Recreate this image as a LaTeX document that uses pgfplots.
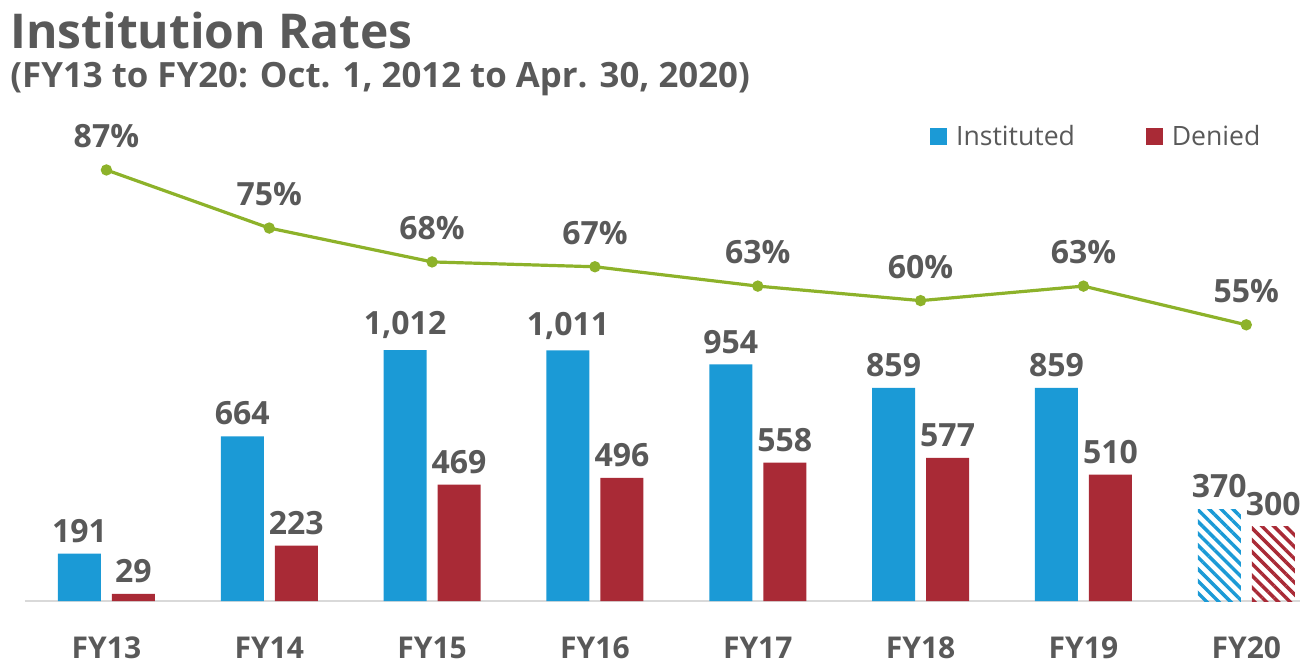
\documentclass[border=0pt]{standalone}
\usepackage{pgfplots}
\pgfplotsset{compat=1.18}
\usepackage{fontspec}
\setmainfont{Open Sans}
\usetikzlibrary{patterns.meta}
\definecolor{instblue}{HTML}{1B9AD6}
\definecolor{denred}{HTML}{A92A36}
\definecolor{linegreen}{HTML}{8DB22A}
\definecolor{txtgray}{HTML}{595959}
\definecolor{basegray}{HTML}{D9D9D9}
\begin{document}
\begin{tikzpicture}
\useasboundingbox (0,0) rectangle (653pt,333pt);
\node[anchor=north west, inner sep=0, text=txtgray, font=\fontsize{24}{28}\selectfont\bfseries] at (5pt,327pt) {Institution Rates};
\node[anchor=north west, inner sep=0, text=txtgray, font=\fontsize{17.4}{20}\selectfont\bfseries] at (5pt,302pt) {(FY13 to FY20: Oct. 1, 2012 to Apr. 30, 2020)};
\begin{axis}[
  at={(12.5pt,32.5pt)}, anchor=south west, scale only axis,
  width=637.5pt, height=235.6pt,
  xmin=-0.5, xmax=7.33, ymin=0, ymax=1900,
  ybar, bar width=21.5pt,
  axis x line*=bottom, axis y line=none,
  x axis line style={basegray, line width=0.8pt, -},
  xtick={0,...,7}, xticklabels={FY13,FY14,FY15,FY16,FY17,FY18,FY19,FY20},
  major tick length=0pt,
  xticklabel style={font=\fontsize{15}{18}\selectfont\bfseries, text=txtgray, yshift=-14.5pt},
  nodes near coords,
  every node near coord/.append style={font=\fontsize{16}{18}\selectfont\bfseries, text=txtgray, yshift=2pt,
    /pgf/number format/1000 sep={,}, /pgf/number format/assume math mode=true},
  legend style={at={(0.705,0.985)}, anchor=west, draw=none, fill=none,
    font=\fontsize{13.3}{15}\selectfont, text=txtgray, legend columns=2,
    /tikz/every even column/.append style={column sep=33.5pt}},
  clip=false,
]
\addplot[fill=instblue, draw=none, bar shift=-13.5pt,
  legend image code/.code={\fill[instblue] (0pt,-4.2pt) rectangle (8.4pt,4.2pt);}]
  coordinates {(0,191)(1,664)(2,1012)(3,1011)(4,954)(5,859)(6,859)};
\addlegendentry{\hspace{2.5pt}Instituted}
\addplot[fill=denred, draw=none, bar shift=13.5pt,
  legend image code/.code={\fill[denred] (0pt,-4.2pt) rectangle (8.4pt,4.2pt);}]
  coordinates {(0,29)(1,223)(2,469)(3,496)(4,558)(5,577)(6,510)};
\addlegendentry{\hspace{2.5pt}Denied}
\addplot[draw=none, pattern={Lines[angle=-45,distance=4.2pt,line width=1.7pt]}, pattern color=instblue, bar shift=-13.5pt, forget plot]
  coordinates {(7,370)};
\addplot[draw=none, pattern={Lines[angle=-45,distance=4.2pt,line width=1.7pt]}, pattern color=denred, bar shift=13.5pt, forget plot]
  coordinates {(7,300)};
\end{axis}
\begin{axis}[
  at={(12.5pt,32.5pt)}, anchor=south west, scale only axis,
  width=637.5pt, height=235.6pt,
  xmin=-0.5, xmax=7.33, ymin=-2.07, ymax=95.3,
  hide axis, clip=false,
]
\addplot[linegreen, line width=1.6pt, mark=*, mark size=2pt,
  mark options={fill=linegreen, draw=linegreen},
  nodes near coords={\pgfmathprintnumber[assume math mode=true]{\pgfplotspointmeta}\%},
  every node near coord/.style={font=\fontsize{16}{18}\selectfont\bfseries, text=txtgray, anchor=south, yshift=7pt}]
  coordinates {(0,87)(1,75)(2,68)(3,67)(4,63)(5,60)(6,63)(7,55)};
\end{axis}
\end{tikzpicture}
\end{document}
